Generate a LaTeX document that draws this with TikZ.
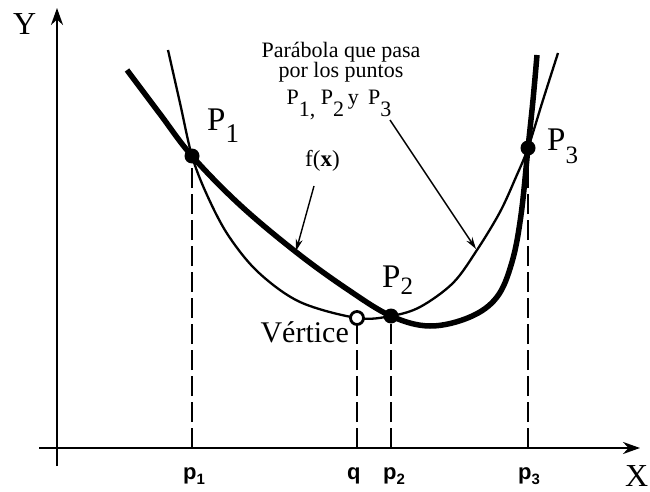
\documentclass[tikz,border=0pt]{standalone}
\usepackage{fontspec}
\setmainfont{Liberation Serif}
\newfontfamily\labsans{Liberation Sans}
\usetikzlibrary{arrows.meta}
\begin{document}
\begin{tikzpicture}[x=1pt,y=-1pt,
  axis/.style={line width=2.5pt},
  fcurve/.style={line width=5.5pt},
  pcurve/.style={line width=2.3pt},
  guide/.style={line width=2pt, dash pattern=on 20pt off 6pt},
  note/.style={line width=1.4pt, -{Stealth[length=12pt,width=7pt]}},
  dot/.style={circle, fill=black, inner sep=0pt, minimum size=15pt},
  odot/.style={circle, draw=black, line width=2.8pt, fill=white, inner sep=0pt, minimum size=13pt},
  biglab/.style={font=\fontsize{33}{33}\selectfont, inner sep=0pt, anchor=base west},
  axlab/.style={font=\fontsize{32}{32}\selectfont, inner sep=0pt, anchor=base west},
  ticklab/.style={font=\labsans\bfseries\fontsize{22}{22}\selectfont, inner sep=0pt, anchor=base west},
  notelab/.style={font=\fontsize{22}{22}\selectfont, inner sep=0pt, anchor=base},
]
\useasboundingbox (0,0) rectangle (650,492);
% axes
\coordinate (xs) at (39,448);
\coordinate (xe) at (640,448);
\coordinate (ys) at (57,466);
\coordinate (ye) at (57,8);
\draw[axis,-{Stealth[length=17pt,width=12pt]}] (xs) -- (xe);
\draw[axis,-{Stealth[length=17pt,width=12pt]}] (ys) -- (ye);
\node[axlab] (Ylab) at (13,35) {Y};
\node[axlab] (Xlab) at (625,486) {X};
% points
\coordinate (P1c) at (192,156);
\coordinate (P2c) at (391,316);
\coordinate (P3c) at (528,148);
\coordinate (Vc) at (357,318);
\coordinate (a1) at (192,448);
\coordinate (aq) at (357,448);
\coordinate (a2) at (391,448);
\coordinate (a3) at (528,448);
% dashed guides
\draw[guide] (a1) -- (P1c);
\draw[guide] (aq) -- (Vc);
\draw[guide] (a2) -- (P2c);
\draw[guide] (a3) -- (P3c);
% thin parabola
\draw[pcurve] plot[smooth, tension=0.55] coordinates {(168,50) (180,103) (192,156) (207,195) (228,235) (258,272) (300,302) (357,318) (391,316) (420,307) (453,283) (477,250) (500,212) (516,177) (528,148) (543,100) (558,53)};
% thick f(x)
\draw[fcurve] plot[smooth, tension=0.6] coordinates {(127,70) (160,114) (192,156) (240,205) (296,252) (347,289) (391,316) (430,326) (470,317) (497,297) (512,262) (521,215) (528,148) (533,100) (537,55)};
% dots
\node[dot] (P1) at (P1c) {};
\node[dot] (P2) at (P2c) {};
\node[dot] (P3) at (P3c) {};
\node[odot] (V) at (Vc) {};
% point labels
\node[biglab] (L1) at (207,130) {P\raisebox{-13pt}{\fontsize{27}{27}\selectfont 1}};
\node[biglab] (L2) at (382,287) {P\raisebox{-7pt}{\fontsize{25}{25}\selectfont 2}};
\node[biglab] (L3) at (547,150) {P\raisebox{-13pt}{\fontsize{25}{25}\selectfont 3}};
\node[font=\fontsize{30}{30}\selectfont, inner sep=0pt, anchor=base east] (Vlab) at (349,342) {Vértice};
% tick labels
\node[ticklab] (t1) at (183,479) {p\raisebox{-5pt}{\fontsize{15}{15}\selectfont 1}};
\node[ticklab] (tq) at (347,479) {q};
\node[ticklab] (t2) at (383,479) {p\raisebox{-5pt}{\fontsize{15}{15}\selectfont 2}};
\node[ticklab] (t3) at (518,479) {p\raisebox{-5pt}{\fontsize{15}{15}\selectfont 3}};
% f(x) note
\node[font=\fontsize{23}{23}\selectfont, inner sep=0pt, anchor=base west] (fx) at (305,166) {f(\textbf{x})};
\coordinate (fxs) at (314,186);
\coordinate (fxt) at (296,251);
\draw[note] (fxs) -- (fxt);
% parabola note
\node[notelab] (n1) at (341,58) {Parábola que pasa};
\node[notelab] (n2) at (341,78) {por los puntos};
\node[notelab] (n3) at (339,105) {P\raisebox{-12pt}{1,} P\raisebox{-12pt}{2}\,y\, P\raisebox{-12pt}{3}};
\coordinate (ns) at (390,120);
\coordinate (nt) at (476,249);
\draw[note] (ns) -- (nt);
\end{tikzpicture}
\end{document}
